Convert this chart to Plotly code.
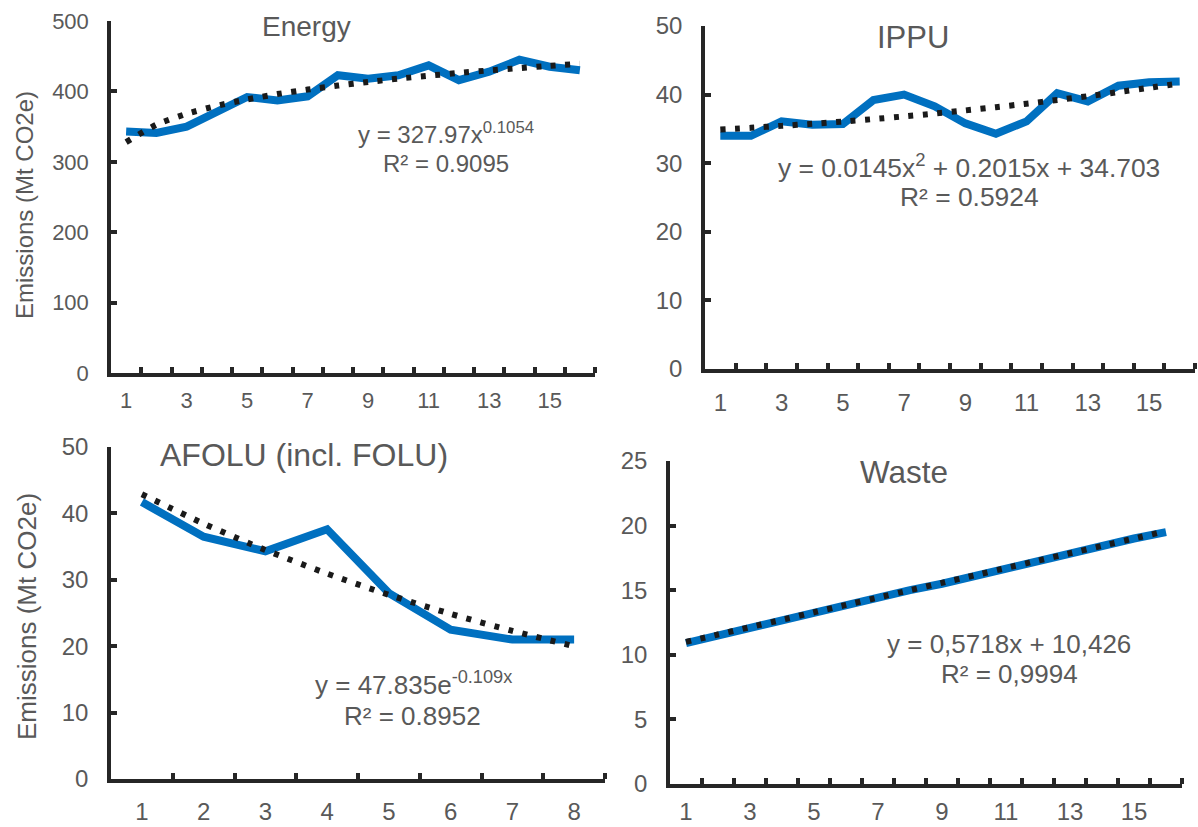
import plotly.graph_objects as go

W, H = 1198, 827

# ---------------- data ----------------
years16 = list(range(1, 17))
years8 = list(range(1, 9))

energy = [343, 341, 350, 371, 392, 387, 393, 423, 418, 423, 437, 416, 428, 445, 435, 430]
energy_trend = [328.0, 352.8, 368.2, 379.6, 388.6, 396.2, 402.6, 408.3, 413.4, 418.1,
                422.3, 426.2, 429.8, 433.1, 436.3, 439.2]

ippu = [34.0, 34.0, 36.1, 35.6, 35.7, 39.2, 40.0, 38.3, 35.8, 34.3, 36.1, 40.2, 39.0, 41.3, 41.8, 41.9]
ippu_trend = [34.92, 35.16, 35.44, 35.74, 36.07, 36.43, 36.82, 37.24, 37.69, 38.17,
              38.67, 39.21, 39.77, 40.37, 40.99, 41.64]

afolu = [41.7, 36.5, 34.3, 37.6, 28.0, 22.5, 21.0, 21.0]
afolu_trend = [42.89, 38.46, 34.49, 30.93, 27.73, 24.87, 22.30, 19.99]

waste = [10.9, 11.5, 12.1, 12.7, 13.2, 13.8, 14.5, 15.0, 15.5, 16.1, 16.7, 17.3, 17.9, 18.5, 19.0, 19.5]
waste_trend = [11.00, 11.57, 12.14, 12.71, 13.29, 13.86, 14.43, 15.00, 15.57, 16.14,
               16.72, 17.29, 17.86, 18.43, 19.00, 19.58]

odd_ticks16 = [1, 3, 5, 7, 9, 11, 13, 15]
ticks8 = [1, 2, 3, 4, 5, 6, 7, 8]

titles = ["Energy", "IPPU", "AFOLU (incl. FOLU)", "Waste"]
y_title = "Emissions (Mt CO2e)"

# ---------------- style ----------------
BLUE = "rgb(0,112,192)"
AX = "#262626"
TXT = "#595959"
FONT = "Liberation Sans, Arial, sans-serif"


def px(x):
    return x / W


def py(y):
    return 1 - y / H


fig = go.Figure()

panels = [
    # xs, series, trend, axis suffix, x px domain, y px domain (top,bottom), yrange, dtick, xticks, font, x standoff
    (years16, energy, energy_trend, "", (111, 595), (21, 373), [0, 500], 100, odd_ticks16, 22, 5),
    (years16, ippu, ippu_trend, "2", (705, 1195), (26, 369), [0, 50], 10, odd_ticks16, 24, 9),
    (years8, afolu, afolu_trend, "3", (111, 605), (447, 779), [0, 50], 10, ticks8, 24, 8),
    (years16, waste, waste_trend, "4", (670, 1182), (461, 784), [0, 25], 5, odd_ticks16, 24, 3),
]

layout_axes = {}
for xs, ser, trend, s, (x0, x1), (yt, yb), yr, dt, xt, fs, xso in panels:
    xa = "x" + s
    ya = "y" + s
    fig.add_trace(go.Scatter(x=xs, y=ser, mode="lines", xaxis=xa, yaxis=ya,
                             line=dict(color=BLUE, width=8), showlegend=False,
                             hoverinfo="x+y"))
    fig.add_trace(go.Scatter(x=xs, y=trend, mode="lines", xaxis=xa, yaxis=ya,
                             line=dict(color="#1a1a1a", width=6, dash="5px,9.5px",
                                       shape="spline", smoothing=0.6),
                             showlegend=False, hoverinfo="skip"))
    n = len(xs)
    layout_axes["xaxis" + s] = dict(
        domain=[px(x0), px(x1)], anchor=ya, range=[0.5, n + 0.5],
        tickmode="array", tickvals=xt, ticktext=[str(v) for v in xt],
        ticks="", showline=True, linecolor=AX, linewidth=3.5,
        showgrid=False, zeroline=False, automargin=False,
        tickfont=dict(family=FONT, size=fs, color=TXT),
        ticklabelstandoff=xso,
        minor=dict(tickmode="array", tickvals=[v + 0.5 for v in xs],
                   ticks="inside", ticklen=6, tickwidth=3.5, tickcolor=AX,
                   showgrid=False),
    )
    layout_axes["yaxis" + s] = dict(
        domain=[py(yb), py(yt)], anchor=xa, range=yr,
        tickmode="linear", tick0=0, dtick=dt,
        ticks="inside", ticklen=6, tickwidth=3.5, tickcolor=AX,
        showline=True, linecolor=AX, linewidth=3.5,
        showgrid=False, zeroline=False, automargin=False,
        tickfont=dict(family=FONT, size=fs, color=TXT),
        ticklabelstandoff=14,
    )

annotations = []


def ann(text, x, y, size, angle=0):
    annotations.append(dict(text=text, x=px(x), y=py(y), xref="paper", yref="paper",
                            xanchor="center", yanchor="middle", showarrow=False,
                            textangle=angle,
                            font=dict(family=FONT, size=size, color=TXT)))


# panel titles
ann(titles[0], 307, 27, 28)
ann(titles[1], 913, 37, 31)
ann(titles[2], 304, 455, 32)
ann(titles[3], 904, 472, 31.5)

# y axis titles
ann(y_title, 25, 205, 24, -90)
ann(y_title, 27, 617, 26, -90)

# trendline equations
ann("y = 327.97x<sup>0.1054</sup>", 446, 133, 24)
ann("R² = 0.9095", 446, 163, 24)
ann("y = 0.0145x<sup>2</sup> + 0.2015x + 34.703", 969, 166, 26.4)
ann("R² = 0.5924", 969, 197, 26.4)
ann("y = 47.835e<sup>-0.109x</sup>", 413, 683, 26)
ann("R² = 0.8952", 412, 716, 26)
ann("y = 0,5718x + 10,426", 1009, 644, 26)
ann("R² = 0,9994", 1009, 674, 26)

fig.update_layout(
    width=W, height=H, margin=dict(l=0, r=0, t=0, b=0, autoexpand=False),
    paper_bgcolor="white", plot_bgcolor="white",
    annotations=annotations, showlegend=False,
    **layout_axes,
)

fig.write_html("out.html", include_plotlyjs=True, config={"displayModeBar": False})
